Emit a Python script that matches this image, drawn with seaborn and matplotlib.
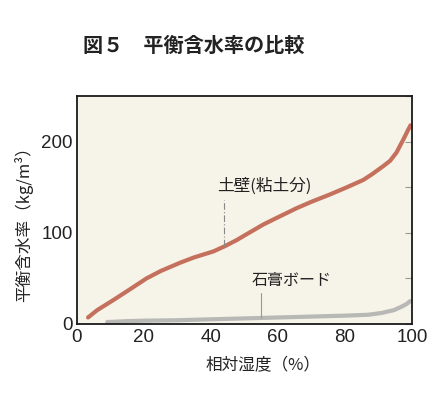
import matplotlib
matplotlib.use("Agg")
import matplotlib.pyplot as plt
import seaborn as sns
import pandas as pd
from matplotlib.ticker import MultipleLocator

# Data
clay_x = [3.3, 6, 10.8, 15, 20.8, 25, 30.7, 35, 40.7, 44, 47.7, 50, 55.6, 60, 65.6, 70, 75.5, 80,
          85.5, 88, 91.4, 93.5, 95.4, 97.4, 98.9, 99.6]
clay_y = [7, 15, 26, 36, 50, 58, 67, 73, 79.5, 85, 92, 97, 109, 117, 127, 134, 142, 149,
          158, 164, 173, 179, 188, 202, 213, 218]
gyp_x = [9, 15, 20, 30, 40, 50, 60, 70, 80, 87, 91, 94.6, 97, 98.5, 99.5]
gyp_y = [2, 3, 3.5, 4, 5, 6, 7, 8, 9, 10, 12, 15, 19, 22, 25]

title = "図５　平衡含水率の比較"
xlabel = "相対湿度（%）"
ylabel = "平衡含水率（kg/m³）"
label_clay = "土壁(粘土分)"
label_gyp = "石膏ボード"
xticks = [0, 20, 40, 60, 80, 100]
yticks = [0, 100, 200]

sns.set_theme(style="white")
plt.rcParams['font.family'] = ['Noto Sans CJK JP', 'DejaVu Sans']

df = pd.concat([
    pd.DataFrame({"rh": clay_x, "w": clay_y, "mat": label_clay}),
    pd.DataFrame({"rh": gyp_x, "w": gyp_y, "mat": label_gyp}),
])

fig = plt.figure(figsize=(4.4, 3.94), dpi=100)
ax = fig.add_axes([0.175, 0.178, 0.761, 0.578])
ax.set_facecolor("#f6f3e8")

sns.lineplot(data=df, x="rh", y="w", hue="mat", sort=False, estimator=None,
             palette={label_clay: "#c4705c", label_gyp: "#b8b8b6"},
             linewidth=3.0, legend=False, ax=ax)

ax.set_xlim(0, 100)
ax.set_ylim(0, 250)
ax.set_xticks(xticks)
ax.set_yticks(yticks)
ax.yaxis.set_minor_locator(MultipleLocator(50))
ax.tick_params(axis="both", which="both", direction="in", color="#999999",
               length=5, width=0.8, right=True)
ax.tick_params(axis="x", pad=4)
ax.tick_params(axis="y", pad=3)
for lab in ax.get_xticklabels() + ax.get_yticklabels():
    lab.set_fontfamily(['Liberation Sans', 'DejaVu Sans'])
    lab.set_fontsize(13.5)
    lab.set_color("#222222")
for s in ax.spines.values():
    s.set_color("#1a1a1a")
    s.set_linewidth(1.3)
    s.set_visible(True)

ax.set_xlabel(xlabel, fontsize=12, color="#222222")
ax.set_ylabel(ylabel, fontsize=12, color="#222222")
ax.xaxis.set_label_coords(0.555, -0.148)
ax.yaxis.set_label_coords(-0.13, 0.456)

# Annotations: vertical leader lines + text
ax.plot([44, 44], [85, 136], color="#888888", lw=0.8, linestyle=(0, (6, 2, 1, 2)))
ax.text(41.8, 151.5, label_clay, fontsize=12, ha="left", va="center", color="#222222")
ax.plot([55, 55], [6.6, 34], color="#999999", lw=0.8)
ax.text(52, 48, label_gyp, fontsize=11.5, ha="left", va="center", color="#222222")

fig.text(0.189, 0.885, title, fontsize=14.5, fontweight="bold", ha="left",
         va="center", color="#222222")

fig.savefig("out.png", dpi=100, facecolor="white")
